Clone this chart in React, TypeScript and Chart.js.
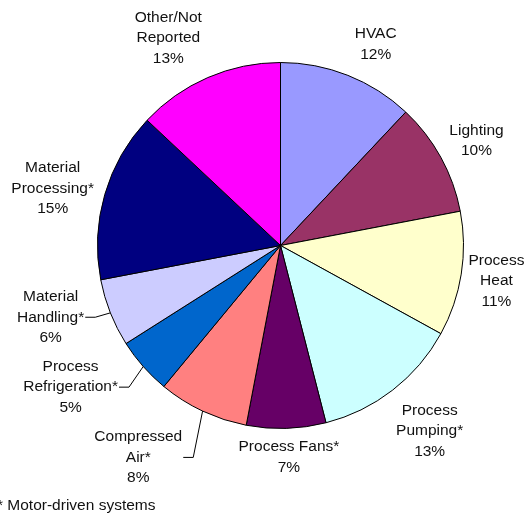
import React, { useEffect, useRef } from "react";
import { Chart, registerables } from "chart.js";

Chart.register(...registerables);

// ---- data ----
const categories = [
  "HVAC",
  "Lighting",
  "Process Heat",
  "Process Pumping*",
  "Process Fans*",
  "Compressed Air*",
  "Process Refrigeration*",
  "Material Handling*",
  "Material Processing*",
  "Other/Not Reported",
];
const shares = [12, 10, 11, 13, 7, 8, 5, 6, 15, 13];
const labelLines: string[][] = [
  ["HVAC"],
  ["Lighting"],
  ["Process", "Heat"],
  ["Process", "Pumping*"],
  ["Process Fans*"],
  ["Compressed", "Air*"],
  ["Process", "Refrigeration*"],
  ["Material", "Handling*"],
  ["Material", "Processing*"],
  ["Other/Not", "Reported"],
];
const footnote = "* Motor-driven systems";

// ---- styles / layout ----
const sliceColors = [
  "#9999FF",
  "#993366",
  "#FFFFCC",
  "#CCFFFF",
  "#660066",
  "#FF8080",
  "#0066CC",
  "#CCCCFF",
  "#000080",
  "#FF00FF",
];
// label block centre relative to pie centre, in units of the radius
const labelOffsets: [number, number][] = [
  [0.52, -1.101],
  [1.071, -0.572],
  [1.18, 0.193],
  [0.815, 1.014],
  [0.046, 1.158],
  [-0.777, 1.158],
  [-1.147, 0.774],
  [-1.256, 0.392],
  [-1.245, -0.313],
  [-0.613, -1.134],
];
const hasLeader = [false, false, false, false, false, true, true, true, false, false];
const FONT = '15.5px "Liberation Sans", Arial, sans-serif';
const LINE_H = 20.5;
const TEXT_COLOR = "#111";

const labelPlugin = {
  id: "pieLabels",
  afterDraw(chart: any) {
    const ctx = chart.ctx as CanvasRenderingContext2D;
    const meta = chart.getDatasetMeta(0);
    const total = shares.reduce((a, b) => a + b, 0);
    ctx.save();
    ctx.font = FONT;
    ctx.fillStyle = TEXT_COLOR;
    ctx.textBaseline = "middle";
    ctx.textAlign = "center";
    meta.data.forEach((arc: any, i: number) => {
      const { x, y, startAngle, endAngle, outerRadius } = arc.getProps(
        ["x", "y", "startAngle", "endAngle", "outerRadius"],
        true
      );
      const cx = x + labelOffsets[i][0] * outerRadius;
      const cy = y + labelOffsets[i][1] * outerRadius;
      const pct = Math.round((shares[i] / total) * 100) + "%";
      const lines = [...labelLines[i], pct];
      const n = lines.length;
      lines.forEach((t, k) => {
        ctx.fillText(t, cx, cy + (k - (n - 1) / 2) * LINE_H);
      });
      if (hasLeader[i]) {
        const k = labelLines[i].length - 1;
        const ly = cy + (k - (n - 1) / 2) * LINE_H;
        const w = Math.max(...lines.map((t) => ctx.measureText(t).width));
        const sx = cx + w / 2 + 1;
        const mid = (startAngle + endAngle) / 2;
        const ex = x + Math.cos(mid) * outerRadius;
        const ey = y + Math.sin(mid) * outerRadius;
        ctx.save();
        ctx.strokeStyle = "#000";
        ctx.lineWidth = 1;
        ctx.beginPath();
        ctx.moveTo(sx, ly);
        ctx.lineTo(sx + 10, ly);
        ctx.lineTo(ex, ey);
        ctx.stroke();
        ctx.restore();
      }
    });
    ctx.textAlign = "left";
    ctx.fillText(footnote, -3, 506);
    ctx.restore();
  },
};

export default function App() {
  const ref = useRef<HTMLCanvasElement>(null);
  useEffect(() => {
    if (!ref.current) return;
    const chart = new Chart(ref.current, {
      type: "pie",
      data: {
        labels: categories,
        datasets: [
          {
            data: shares,
            backgroundColor: sliceColors,
            borderColor: "#000",
            borderWidth: 1,
          },
        ],
      },
      options: {
        responsive: false,
        animation: false,
        layout: { padding: { left: 97, right: 63, top: 62, bottom: 87 } },
        plugins: {
          legend: { display: false },
          tooltip: { enabled: false },
        },
      },
      plugins: [labelPlugin],
    });
    return () => chart.destroy();
  }, []);
  return (
    <div style={{ position: "absolute", left: 0, top: 0, width: 527, height: 516, background: "#fff" }}>
      <canvas ref={ref} width={527} height={516} style={{ display: "block" }} />
    </div>
  );
}
